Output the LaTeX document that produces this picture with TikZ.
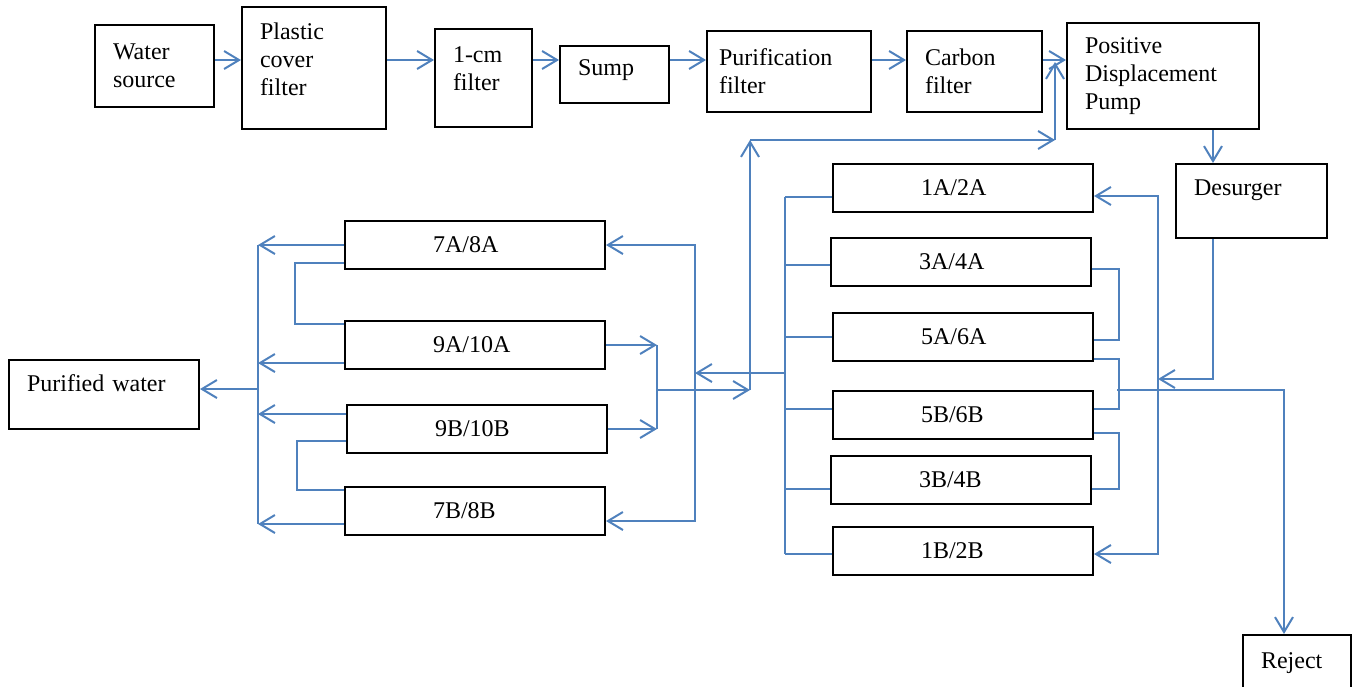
\documentclass[tikz,border=0pt]{standalone}
\usepackage{fontspec}
\setmainfont{Liberation Serif}
\usepackage{tikz}
\usetikzlibrary{arrows.meta, calc}
\definecolor{pipeblue}{HTML}{4F81BD}
\tikzset{
    blk/.style={draw=black, line width=1pt, fill=white, anchor=north west, inner sep=0pt,
                font=\fontsize{12}{14}\selectfont},
    tblk/.style={blk, align=left, inner xsep=9pt},
    stage/.style={blk, align=left, inner xsep=44pt, text width=42pt, minimum height=24pt},
    pipe/.style={draw=pipeblue, line width=1pt},
    arr/.style={pipe, -{Straight Barb[length=7.5pt, width=9pt]}}
}

\begin{document}
\begin{tikzpicture}[x=0.5pt, y=-0.5pt]
    \useasboundingbox (0,0) rectangle (1354,686);
    \node[tblk, text width=41.5pt, minimum height=41pt] (src) at (94,24) {Water\\source};
    \node[tblk, text width=54pt, minimum height=61pt, text depth=37pt] (cover) at (241,6) {Plastic\\cover\\filter};
    \node[tblk, text width=30.5pt, minimum height=49pt, text depth=23pt] (cm) at (434,28) {1-cm\\filter};
    \node[tblk, text width=36.5pt, minimum height=28.5pt, text depth=6.5pt] (sump) at (559,45) {Sump};
    \node[tblk, inner xsep=6pt, text width=70pt, minimum height=40.5pt] (purif) at (706,30) {Purification\\filter};
    \node[tblk, text width=49.5pt, minimum height=40.5pt] (carbon) at (906,30) {Carbon\\filter};
    \node[tblk, text width=78pt, minimum height=53pt] (pump) at (1066,22) {Positive\\Displacement\\Pump};
    \node[tblk, text width=57.5pt, minimum height=37pt, text depth=13pt] (desurg) at (1175,163) {Desurger};
    \node[tblk, text width=77pt, minimum height=34.5pt, text depth=11.7pt] (pure) at (8,359) {Purified water};
    \node[tblk, text width=36pt, minimum height=28pt] (reject) at (1242,634) {Reject};
    \node[stage] (f12a) at (832,163) {1A/2A};
    \node[stage] (f34a) at (830,237) {3A/4A};
    \node[stage] (f56a) at (832,312) {5A/6A};
    \node[stage] (f56b) at (832,390) {5B/6B};
    \node[stage] (f34b) at (830,455) {3B/4B};
    \node[stage] (f12b) at (832,526) {1B/2B};
    \node[stage] (f78a) at (344,220) {7A/8A};
    \node[stage] (f910a) at (344,320) {9A/10A};
    \node[stage] (f910b) at (346,404) {9B/10B};
    \node[stage] (f78b) at (344,486) {7B/8B};
    \coordinate (feedline) at (0,60);
    \coordinate (dropx) at (1213,0);
    \coordinate (inlet) at (1158,379);
    \coordinate (bankL) at (785,0);
    \coordinate (bankout) at (785,373);
    \coordinate (feedR) at (695,0);
    \coordinate (mixx) at (657,0);
    \coordinate (mixout) at (657,390);
    \coordinate (riser) at (750,390);
    \coordinate (loopL) at (750,140);
    \coordinate (loopR) at (1055,140);
    \coordinate (loopT) at (1055,62);
    \coordinate (rejtap) at (1117,390);
    \coordinate (rejx) at (1284,0);
    \coordinate (lbus) at (258,0);
    \coordinate (pureout) at (258,389);
    \foreach \a/\b in {src/cover, cover/cm, cm/sump, sump/purif, purif/carbon, carbon/pump}
        \draw[arr] (\a.east |- feedline) -- (\b.west |- feedline);
    \draw[arr] (pump.south -| dropx) -- (desurg.north -| dropx);
    \draw[arr] (desurg.south -| dropx) |- (inlet);
    \draw[arr] (inlet) |- ([yshift=-4pt]f12a.east);
    \draw[arr] (inlet) |- ([yshift=-1.5pt]f12b.east);
    \draw[pipe] ([yshift=-3.5pt]f34a.east) -- ++(27,0) |- ([yshift=-1.5pt]f56a.east);
    \draw[pipe] ([yshift=-11pt]f56a.east) -- ++(25,0) |- ([yshift=3pt]f56b.east);
    \draw[pipe] ([yshift=-9pt]f56b.east) -- ++(25,0) |- ([yshift=-4.5pt]f34b.east);
    \draw[arr] (rejtap) -| (reject.north -| rejx);
    \foreach \n/\s in {f12a/-4.5pt, f34a/-1.5pt, f56a/0pt, f56b/3pt, f34b/-4.5pt, f12b/-1.5pt}
        \draw[pipe] ([yshift=\s]\n.west) coordinate (\n-l) -- (\n-l -| bankL);
    \draw[pipe] (f12a-l -| bankL) -- (f12b-l -| bankL);
    \draw[arr] (bankout) -- (bankout -| feedR);
    \draw[arr] (bankout -| feedR) |- (f78a.east);
    \draw[arr] (bankout -| feedR) |- ([yshift=-5pt]f78b.east);
    \draw[arr] (f910a.east) -- (f910a.east -| mixx);
    \draw[arr] (f910b.east) -- (f910b.east -| mixx);
    \draw[pipe] (f910a.east -| mixx) -- (f910b.east -| mixx);
    \draw[arr] (mixout) -- (riser);
    \draw[arr] (riser) -- (loopL);
    \draw[arr] (loopL) -- (loopR);
    \draw[arr] (loopR) -- (loopT);
    \draw[pipe] ([yshift=-9pt]f78a.west) -- ++(-49,0) |- ([yshift=10.5pt]f910a.west);
    \draw[pipe] ([yshift=-6pt]f910b.west) -- ++(-49,0) |- ([yshift=10.5pt]f78b.west);
    \foreach \n/\s in {f78a/0pt, f910a/-9pt, f910b/7.5pt, f78b/-6.5pt}
        \draw[arr] ([yshift=\s]\n.west) coordinate (\n-l) -- (\n-l -| lbus);
    \draw[pipe] (f78a-l -| lbus) -- (f78b-l -| lbus);
    \draw[arr] (pureout) -- (pureout -| pure.east);
\end{tikzpicture}
\end{document}
